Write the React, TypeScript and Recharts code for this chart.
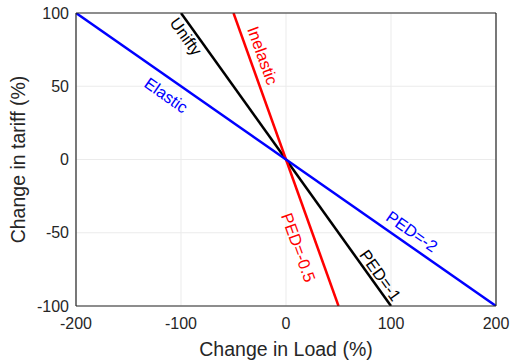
import React from "react";
import {
  ComposedChart,
  Line,
  CartesianGrid,
  XAxis,
  YAxis,
  ReferenceDot,
} from "recharts";

// axis ticks
const loadTicks = [-200, -100, 0, 100, 200];
const tariffTicks = [-100, -50, 0, 50, 100];

// the three demand curves: change in load (x) vs change in tariff (y)
const elasticLoad = [-200, 0, 200];
const elasticTariff = [100, 0, -100];
const unityLoad = [-100, 0, 100];
const unityTariff = [100, 0, -100];
const inelasticLoad = [-50, 0, 50];
const inelasticTariff = [100, 0, -100];

// text annotations, anchored in data units
const noteText = ["Elastic", "Unifty", "Inelastic", "PED=-2", "PED=-1", "PED=-0.5"];
const noteLoad = [-114, -95, -22, 120, 90, 12];
const noteTariff = [44, 84, 71, -49, -79, -60];
const noteCurve = ["elastic", "unity", "inelastic", "elastic", "unity", "inelastic"];

const toPoints = (xs: number[], ys: number[]) => xs.map((x, i) => ({ x, y: ys[i] }));

const FONT = '"Liberation Sans", Arial, Helvetica, sans-serif';
const AXIS = "#262626";
const curveStyle: Record<string, { color: string; angle: number }> = {
  elastic: { color: "#0000ff", angle: 35 },
  unity: { color: "#000000", angle: 54.4 },
  inelastic: { color: "#ff0000", angle: 70.3 },
};

const noteShape = (text: string, curve: string) => (p: any) => {
  const { color, angle } = curveStyle[curve];
  return (
    <text
      x={p.cx}
      y={p.cy}
      transform={`rotate(${angle} ${p.cx} ${p.cy})`}
      textAnchor="middle"
      dominantBaseline="central"
      fill={color}
      fontSize={16.5}
      fontFamily={FONT}
    >
      {text}
    </text>
  );
};

const yTitle = (p: any) => {
  const vb = p.viewBox;
  const cx = vb.x + 25;
  const cy = vb.y + vb.height / 2;
  return (
    <text
      x={cx}
      y={cy}
      transform={`rotate(-90 ${cx} ${cy})`}
      textAnchor="middle"
      fill={AXIS}
      fontSize={19.5}
      fontFamily={FONT}
    >
      Change in tariff (%)
    </text>
  );
};

// inner tick marks only, no labels
const noLabel = () => <g />;

export default function App() {
  const tick = { fontSize: 16, fill: AXIS, fontFamily: FONT };
  return (
    <div style={{ position: "absolute", left: 0, top: 0, background: "#fff" }}>
      <ComposedChart
        width={510}
        height={364}
        margin={{ top: 13, right: 14, left: 0, bottom: 0 }}
      >
        <CartesianGrid xAxisId="b" yAxisId="l" stroke="#ebebeb" strokeWidth={1} />
        <XAxis
          xAxisId="b"
          type="number"
          dataKey="x"
          domain={[-200, 200]}
          ticks={loadTicks}
          allowDataOverflow
          height={58}
          tickLine={false}
          tickSize={6}
          tickMargin={6}
          axisLine={{ stroke: AXIS, strokeWidth: 1.2 }}
          tick={tick}
          label={{
            value: "Change in Load (%)",
            position: "insideBottom",
            offset: 8,
            fill: AXIS,
            fontSize: 19.5,
            fontFamily: FONT,
          }}
        />
        <XAxis
          xAxisId="bi"
          type="number"
          dataKey="x"
          domain={[-200, 200]}
          ticks={loadTicks}
          orientation="bottom"
          mirror
          tick={noLabel}
          tickSize={5}
          axisLine={false}
          tickLine={{ stroke: AXIS }}
        />
        <XAxis
          xAxisId="t"
          type="number"
          dataKey="x"
          domain={[-200, 200]}
          ticks={loadTicks}
          orientation="top"
          mirror
          tick={noLabel}
          tickSize={5}
          axisLine={{ stroke: AXIS, strokeWidth: 1.2 }}
          tickLine={{ stroke: AXIS }}
        />
        <YAxis
          yAxisId="l"
          type="number"
          domain={[-100, 100]}
          ticks={tariffTicks}
          allowDataOverflow
          width={76}
          tickLine={false}
          tickSize={4}
          tickMargin={3}
          axisLine={{ stroke: AXIS, strokeWidth: 1.2 }}
          tick={tick}
          label={{ content: yTitle }}
        />
        <YAxis
          yAxisId="li"
          type="number"
          domain={[-100, 100]}
          ticks={tariffTicks}
          orientation="left"
          mirror
          tick={noLabel}
          tickSize={5}
          axisLine={false}
          tickLine={{ stroke: AXIS }}
        />
        <YAxis
          yAxisId="r"
          type="number"
          domain={[-100, 100]}
          ticks={tariffTicks}
          orientation="right"
          mirror
          tick={noLabel}
          tickSize={5}
          axisLine={{ stroke: AXIS, strokeWidth: 1.2 }}
          tickLine={{ stroke: AXIS }}
        />
        <Line
          xAxisId="b"
          yAxisId="l"
          data={toPoints(unityLoad, unityTariff)}
          dataKey="y"
          type="linear"
          stroke="#000000"
          strokeWidth={2.5}
          dot={false}
          isAnimationActive={false}
        />
        <Line
          xAxisId="b"
          yAxisId="l"
          data={toPoints(inelasticLoad, inelasticTariff)}
          dataKey="y"
          type="linear"
          stroke="#ff0000"
          strokeWidth={2.5}
          dot={false}
          isAnimationActive={false}
        />
        <Line
          xAxisId="b"
          yAxisId="l"
          data={toPoints(elasticLoad, elasticTariff)}
          dataKey="y"
          type="linear"
          stroke="#0000ff"
          strokeWidth={2.5}
          dot={false}
          isAnimationActive={false}
        />
        {noteText.map((t, i) => (
          <ReferenceDot
            key={t}
            xAxisId="b"
            yAxisId="l"
            x={noteLoad[i]}
            y={noteTariff[i]}
            r={0}
            shape={noteShape(t, noteCurve[i])}
          />
        ))}
      </ComposedChart>
    </div>
  );
}
